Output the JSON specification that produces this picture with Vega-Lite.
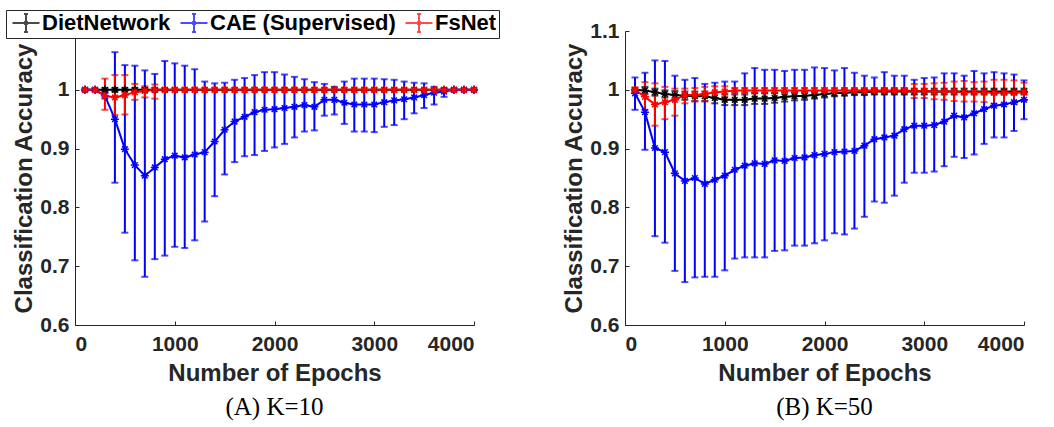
{
  "$schema": "https://vega.github.io/schema/vega-lite/v6.json",
  "background": "white",
  "padding": {"left": 5, "top": 9, "right": 5, "bottom": 5},
  "config": {
    "view": {"stroke": null},
    "axis": {"labelFont": "Liberation Sans", "labelFontSize": 21, "labelFontWeight": "bold", "labelColor": "#262626",
      "titleFont": "Liberation Sans", "titleFontSize": 24, "titleFontWeight": "bold", "titleColor": "#262626",
      "domainColor": "#262626", "tickColor": "#262626", "tickSize": -4, "grid": false},
    "title": {"font": "Liberation Serif", "fontSize": 25, "fontWeight": "normal", "color": "black", "orient": "bottom", "offset": 10}
  },
  "datasets": {
    "d": [
      {"p":"A","s":"DietNetwork","x":100,"m":1,"lo":1,"hi":1},
      {"p":"A","s":"DietNetwork","x":200,"m":1,"lo":1,"hi":1},
      {"p":"A","s":"DietNetwork","x":300,"m":1,"lo":0.997,"hi":1.003},
      {"p":"A","s":"DietNetwork","x":400,"m":1,"lo":0.997,"hi":1.003},
      {"p":"A","s":"DietNetwork","x":500,"m":1,"lo":0.997,"hi":1.003},
      {"p":"A","s":"DietNetwork","x":600,"m":1,"lo":0.997,"hi":1.003},
      {"p":"A","s":"DietNetwork","x":700,"m":1,"lo":0.997,"hi":1.003},
      {"p":"A","s":"DietNetwork","x":800,"m":1,"lo":0.997,"hi":1.003},
      {"p":"A","s":"DietNetwork","x":900,"m":1,"lo":0.998,"hi":1.002},
      {"p":"A","s":"DietNetwork","x":1000,"m":1,"lo":1,"hi":1},
      {"p":"A","s":"DietNetwork","x":1100,"m":1,"lo":1,"hi":1},
      {"p":"A","s":"DietNetwork","x":1200,"m":1,"lo":1,"hi":1},
      {"p":"A","s":"DietNetwork","x":1300,"m":1,"lo":1,"hi":1},
      {"p":"A","s":"DietNetwork","x":1400,"m":1,"lo":1,"hi":1},
      {"p":"A","s":"DietNetwork","x":1500,"m":1,"lo":1,"hi":1},
      {"p":"A","s":"DietNetwork","x":1600,"m":1,"lo":1,"hi":1},
      {"p":"A","s":"DietNetwork","x":1700,"m":1,"lo":1,"hi":1},
      {"p":"A","s":"DietNetwork","x":1800,"m":1,"lo":1,"hi":1},
      {"p":"A","s":"DietNetwork","x":1900,"m":1,"lo":1,"hi":1},
      {"p":"A","s":"DietNetwork","x":2000,"m":1,"lo":1,"hi":1},
      {"p":"A","s":"DietNetwork","x":2100,"m":1,"lo":1,"hi":1},
      {"p":"A","s":"DietNetwork","x":2200,"m":1,"lo":1,"hi":1},
      {"p":"A","s":"DietNetwork","x":2300,"m":1,"lo":1,"hi":1},
      {"p":"A","s":"DietNetwork","x":2400,"m":1,"lo":1,"hi":1},
      {"p":"A","s":"DietNetwork","x":2500,"m":1,"lo":1,"hi":1},
      {"p":"A","s":"DietNetwork","x":2600,"m":1,"lo":1,"hi":1},
      {"p":"A","s":"DietNetwork","x":2700,"m":1,"lo":1,"hi":1},
      {"p":"A","s":"DietNetwork","x":2800,"m":1,"lo":1,"hi":1},
      {"p":"A","s":"DietNetwork","x":2900,"m":1,"lo":1,"hi":1},
      {"p":"A","s":"DietNetwork","x":3000,"m":1,"lo":1,"hi":1},
      {"p":"A","s":"DietNetwork","x":3100,"m":1,"lo":1,"hi":1},
      {"p":"A","s":"DietNetwork","x":3200,"m":1,"lo":1,"hi":1},
      {"p":"A","s":"DietNetwork","x":3300,"m":1,"lo":1,"hi":1},
      {"p":"A","s":"DietNetwork","x":3400,"m":1,"lo":1,"hi":1},
      {"p":"A","s":"DietNetwork","x":3500,"m":1,"lo":1,"hi":1},
      {"p":"A","s":"DietNetwork","x":3600,"m":1,"lo":1,"hi":1},
      {"p":"A","s":"DietNetwork","x":3700,"m":1,"lo":1,"hi":1},
      {"p":"A","s":"DietNetwork","x":3800,"m":1,"lo":1,"hi":1},
      {"p":"A","s":"DietNetwork","x":3900,"m":1,"lo":1,"hi":1},
      {"p":"A","s":"DietNetwork","x":4000,"m":1,"lo":1,"hi":1},
      {"p":"A","s":"CAE (Supervised)","x":100,"m":1,"lo":0.998,"hi":1.002},
      {"p":"A","s":"CAE (Supervised)","x":200,"m":1,"lo":0.998,"hi":1.002},
      {"p":"A","s":"CAE (Supervised)","x":300,"m":0.99,"lo":0.985,"hi":0.995},
      {"p":"A","s":"CAE (Supervised)","x":400,"m":0.95,"lo":0.842,"hi":1.064},
      {"p":"A","s":"CAE (Supervised)","x":500,"m":0.899,"lo":0.757,"hi":1.042},
      {"p":"A","s":"CAE (Supervised)","x":600,"m":0.872,"lo":0.71,"hi":1.041},
      {"p":"A","s":"CAE (Supervised)","x":700,"m":0.854,"lo":0.682,"hi":1.033},
      {"p":"A","s":"CAE (Supervised)","x":800,"m":0.868,"lo":0.712,"hi":1.027},
      {"p":"A","s":"CAE (Supervised)","x":900,"m":0.882,"lo":0.718,"hi":1.049},
      {"p":"A","s":"CAE (Supervised)","x":1000,"m":0.888,"lo":0.733,"hi":1.045},
      {"p":"A","s":"CAE (Supervised)","x":1100,"m":0.885,"lo":0.731,"hi":1.041},
      {"p":"A","s":"CAE (Supervised)","x":1200,"m":0.89,"lo":0.744,"hi":1.035},
      {"p":"A","s":"CAE (Supervised)","x":1300,"m":0.894,"lo":0.776,"hi":1.014},
      {"p":"A","s":"CAE (Supervised)","x":1400,"m":0.912,"lo":0.819,"hi":1.011},
      {"p":"A","s":"CAE (Supervised)","x":1500,"m":0.932,"lo":0.856,"hi":1.012},
      {"p":"A","s":"CAE (Supervised)","x":1600,"m":0.946,"lo":0.877,"hi":1.017},
      {"p":"A","s":"CAE (Supervised)","x":1700,"m":0.954,"lo":0.887,"hi":1.02},
      {"p":"A","s":"CAE (Supervised)","x":1800,"m":0.962,"lo":0.889,"hi":1.025},
      {"p":"A","s":"CAE (Supervised)","x":1900,"m":0.966,"lo":0.896,"hi":1.03},
      {"p":"A","s":"CAE (Supervised)","x":2000,"m":0.967,"lo":0.902,"hi":1.03},
      {"p":"A","s":"CAE (Supervised)","x":2100,"m":0.969,"lo":0.908,"hi":1.026},
      {"p":"A","s":"CAE (Supervised)","x":2200,"m":0.971,"lo":0.919,"hi":1.022},
      {"p":"A","s":"CAE (Supervised)","x":2300,"m":0.974,"lo":0.929,"hi":1.018},
      {"p":"A","s":"CAE (Supervised)","x":2400,"m":0.971,"lo":0.931,"hi":1.013},
      {"p":"A","s":"CAE (Supervised)","x":2500,"m":0.983,"lo":0.956,"hi":1.01},
      {"p":"A","s":"CAE (Supervised)","x":2600,"m":0.983,"lo":0.958,"hi":1.005},
      {"p":"A","s":"CAE (Supervised)","x":2700,"m":0.978,"lo":0.942,"hi":1.014},
      {"p":"A","s":"CAE (Supervised)","x":2800,"m":0.975,"lo":0.929,"hi":1.019},
      {"p":"A","s":"CAE (Supervised)","x":2900,"m":0.975,"lo":0.929,"hi":1.019},
      {"p":"A","s":"CAE (Supervised)","x":3000,"m":0.975,"lo":0.928,"hi":1.019},
      {"p":"A","s":"CAE (Supervised)","x":3100,"m":0.979,"lo":0.937,"hi":1.018},
      {"p":"A","s":"CAE (Supervised)","x":3200,"m":0.982,"lo":0.94,"hi":1.017},
      {"p":"A","s":"CAE (Supervised)","x":3300,"m":0.984,"lo":0.95,"hi":1.014},
      {"p":"A","s":"CAE (Supervised)","x":3400,"m":0.987,"lo":0.96,"hi":1.012},
      {"p":"A","s":"CAE (Supervised)","x":3500,"m":0.991,"lo":0.969,"hi":1.011},
      {"p":"A","s":"CAE (Supervised)","x":3600,"m":0.995,"lo":0.975,"hi":1.005},
      {"p":"A","s":"CAE (Supervised)","x":3700,"m":0.997,"lo":0.988,"hi":1.003},
      {"p":"A","s":"CAE (Supervised)","x":3800,"m":1,"lo":0.998,"hi":1.002},
      {"p":"A","s":"CAE (Supervised)","x":3900,"m":1,"lo":1,"hi":1},
      {"p":"A","s":"CAE (Supervised)","x":4000,"m":1,"lo":1,"hi":1},
      {"p":"A","s":"FsNet","x":100,"m":1,"lo":1,"hi":1},
      {"p":"A","s":"FsNet","x":200,"m":1,"lo":1,"hi":1},
      {"p":"A","s":"FsNet","x":300,"m":0.99,"lo":0.966,"hi":1.019},
      {"p":"A","s":"FsNet","x":400,"m":0.987,"lo":0.957,"hi":1.025},
      {"p":"A","s":"FsNet","x":500,"m":0.991,"lo":0.958,"hi":1.025},
      {"p":"A","s":"FsNet","x":600,"m":0.996,"lo":0.983,"hi":1.01},
      {"p":"A","s":"FsNet","x":700,"m":0.998,"lo":0.987,"hi":1.006},
      {"p":"A","s":"FsNet","x":800,"m":1,"lo":0.985,"hi":1.009},
      {"p":"A","s":"FsNet","x":900,"m":1,"lo":1,"hi":1},
      {"p":"A","s":"FsNet","x":1000,"m":1,"lo":1,"hi":1},
      {"p":"A","s":"FsNet","x":1100,"m":1,"lo":1,"hi":1},
      {"p":"A","s":"FsNet","x":1200,"m":1,"lo":1,"hi":1},
      {"p":"A","s":"FsNet","x":1300,"m":1,"lo":1,"hi":1},
      {"p":"A","s":"FsNet","x":1400,"m":1,"lo":1,"hi":1},
      {"p":"A","s":"FsNet","x":1500,"m":1,"lo":1,"hi":1},
      {"p":"A","s":"FsNet","x":1600,"m":1,"lo":1,"hi":1},
      {"p":"A","s":"FsNet","x":1700,"m":1,"lo":1,"hi":1},
      {"p":"A","s":"FsNet","x":1800,"m":1,"lo":1,"hi":1},
      {"p":"A","s":"FsNet","x":1900,"m":1,"lo":1,"hi":1},
      {"p":"A","s":"FsNet","x":2000,"m":1,"lo":1,"hi":1},
      {"p":"A","s":"FsNet","x":2100,"m":1,"lo":1,"hi":1},
      {"p":"A","s":"FsNet","x":2200,"m":1,"lo":1,"hi":1},
      {"p":"A","s":"FsNet","x":2300,"m":1,"lo":1,"hi":1},
      {"p":"A","s":"FsNet","x":2400,"m":1,"lo":1,"hi":1},
      {"p":"A","s":"FsNet","x":2500,"m":1,"lo":1,"hi":1},
      {"p":"A","s":"FsNet","x":2600,"m":1,"lo":1,"hi":1},
      {"p":"A","s":"FsNet","x":2700,"m":1,"lo":1,"hi":1},
      {"p":"A","s":"FsNet","x":2800,"m":1,"lo":1,"hi":1},
      {"p":"A","s":"FsNet","x":2900,"m":1,"lo":1,"hi":1},
      {"p":"A","s":"FsNet","x":3000,"m":1,"lo":1,"hi":1},
      {"p":"A","s":"FsNet","x":3100,"m":1,"lo":1,"hi":1},
      {"p":"A","s":"FsNet","x":3200,"m":1,"lo":1,"hi":1},
      {"p":"A","s":"FsNet","x":3300,"m":1,"lo":1,"hi":1},
      {"p":"A","s":"FsNet","x":3400,"m":1,"lo":1,"hi":1},
      {"p":"A","s":"FsNet","x":3500,"m":1,"lo":1,"hi":1},
      {"p":"A","s":"FsNet","x":3600,"m":1,"lo":1,"hi":1},
      {"p":"A","s":"FsNet","x":3700,"m":1,"lo":1,"hi":1},
      {"p":"A","s":"FsNet","x":3800,"m":1,"lo":1,"hi":1},
      {"p":"A","s":"FsNet","x":3900,"m":1,"lo":1,"hi":1},
      {"p":"A","s":"FsNet","x":4000,"m":1,"lo":1,"hi":1},
      {"p":"B","s":"DietNetwork","x":100,"m":1,"lo":0.998,"hi":1.002},
      {"p":"B","s":"DietNetwork","x":200,"m":0.999,"lo":0.993,"hi":1.005},
      {"p":"B","s":"DietNetwork","x":300,"m":0.996,"lo":0.99,"hi":1.002},
      {"p":"B","s":"DietNetwork","x":400,"m":0.993,"lo":0.987,"hi":0.999},
      {"p":"B","s":"DietNetwork","x":500,"m":0.991,"lo":0.984,"hi":0.998},
      {"p":"B","s":"DietNetwork","x":600,"m":0.99,"lo":0.983,"hi":0.997},
      {"p":"B","s":"DietNetwork","x":700,"m":0.989,"lo":0.981,"hi":0.997},
      {"p":"B","s":"DietNetwork","x":800,"m":0.989,"lo":0.981,"hi":0.997},
      {"p":"B","s":"DietNetwork","x":900,"m":0.986,"lo":0.977,"hi":0.995},
      {"p":"B","s":"DietNetwork","x":1000,"m":0.983,"lo":0.974,"hi":0.992},
      {"p":"B","s":"DietNetwork","x":1100,"m":0.983,"lo":0.974,"hi":0.992},
      {"p":"B","s":"DietNetwork","x":1200,"m":0.983,"lo":0.974,"hi":0.992},
      {"p":"B","s":"DietNetwork","x":1300,"m":0.985,"lo":0.976,"hi":0.994},
      {"p":"B","s":"DietNetwork","x":1400,"m":0.985,"lo":0.976,"hi":0.994},
      {"p":"B","s":"DietNetwork","x":1500,"m":0.986,"lo":0.978,"hi":0.994},
      {"p":"B","s":"DietNetwork","x":1600,"m":0.988,"lo":0.98,"hi":0.996},
      {"p":"B","s":"DietNetwork","x":1700,"m":0.989,"lo":0.982,"hi":0.996},
      {"p":"B","s":"DietNetwork","x":1800,"m":0.99,"lo":0.983,"hi":0.997},
      {"p":"B","s":"DietNetwork","x":1900,"m":0.991,"lo":0.985,"hi":0.997},
      {"p":"B","s":"DietNetwork","x":2000,"m":0.993,"lo":0.987,"hi":0.999},
      {"p":"B","s":"DietNetwork","x":2100,"m":0.994,"lo":0.989,"hi":0.999},
      {"p":"B","s":"DietNetwork","x":2200,"m":0.995,"lo":0.99,"hi":1},
      {"p":"B","s":"DietNetwork","x":2300,"m":0.996,"lo":0.991,"hi":1.001},
      {"p":"B","s":"DietNetwork","x":2400,"m":0.996,"lo":0.991,"hi":1.001},
      {"p":"B","s":"DietNetwork","x":2500,"m":0.997,"lo":0.992,"hi":1.002},
      {"p":"B","s":"DietNetwork","x":2600,"m":0.997,"lo":0.992,"hi":1.002},
      {"p":"B","s":"DietNetwork","x":2700,"m":0.997,"lo":0.992,"hi":1.002},
      {"p":"B","s":"DietNetwork","x":2800,"m":0.997,"lo":0.992,"hi":1.002},
      {"p":"B","s":"DietNetwork","x":2900,"m":0.997,"lo":0.992,"hi":1.002},
      {"p":"B","s":"DietNetwork","x":3000,"m":0.997,"lo":0.992,"hi":1.002},
      {"p":"B","s":"DietNetwork","x":3100,"m":0.997,"lo":0.992,"hi":1.002},
      {"p":"B","s":"DietNetwork","x":3200,"m":0.997,"lo":0.992,"hi":1.002},
      {"p":"B","s":"DietNetwork","x":3300,"m":0.997,"lo":0.992,"hi":1.002},
      {"p":"B","s":"DietNetwork","x":3400,"m":0.997,"lo":0.992,"hi":1.002},
      {"p":"B","s":"DietNetwork","x":3500,"m":0.997,"lo":0.992,"hi":1.002},
      {"p":"B","s":"DietNetwork","x":3600,"m":0.997,"lo":0.992,"hi":1.002},
      {"p":"B","s":"DietNetwork","x":3700,"m":0.997,"lo":0.992,"hi":1.002},
      {"p":"B","s":"DietNetwork","x":3800,"m":0.997,"lo":0.992,"hi":1.002},
      {"p":"B","s":"DietNetwork","x":3900,"m":0.997,"lo":0.992,"hi":1.002},
      {"p":"B","s":"DietNetwork","x":4000,"m":0.997,"lo":0.992,"hi":1.002},
      {"p":"B","s":"CAE (Supervised)","x":100,"m":0.994,"lo":0.966,"hi":1.021},
      {"p":"B","s":"CAE (Supervised)","x":200,"m":0.962,"lo":0.898,"hi":1.029},
      {"p":"B","s":"CAE (Supervised)","x":300,"m":0.901,"lo":0.751,"hi":1.05},
      {"p":"B","s":"CAE (Supervised)","x":400,"m":0.894,"lo":0.74,"hi":1.049},
      {"p":"B","s":"CAE (Supervised)","x":500,"m":0.858,"lo":0.692,"hi":1.024},
      {"p":"B","s":"CAE (Supervised)","x":600,"m":0.845,"lo":0.673,"hi":1.017},
      {"p":"B","s":"CAE (Supervised)","x":700,"m":0.85,"lo":0.681,"hi":1.02},
      {"p":"B","s":"CAE (Supervised)","x":800,"m":0.84,"lo":0.682,"hi":1.01},
      {"p":"B","s":"CAE (Supervised)","x":900,"m":0.847,"lo":0.682,"hi":1.012},
      {"p":"B","s":"CAE (Supervised)","x":1000,"m":0.854,"lo":0.693,"hi":1.014},
      {"p":"B","s":"CAE (Supervised)","x":1100,"m":0.864,"lo":0.713,"hi":1.014},
      {"p":"B","s":"CAE (Supervised)","x":1200,"m":0.871,"lo":0.715,"hi":1.028},
      {"p":"B","s":"CAE (Supervised)","x":1300,"m":0.875,"lo":0.715,"hi":1.037},
      {"p":"B","s":"CAE (Supervised)","x":1400,"m":0.874,"lo":0.715,"hi":1.034},
      {"p":"B","s":"CAE (Supervised)","x":1500,"m":0.88,"lo":0.726,"hi":1.034},
      {"p":"B","s":"CAE (Supervised)","x":1600,"m":0.879,"lo":0.727,"hi":1.032},
      {"p":"B","s":"CAE (Supervised)","x":1700,"m":0.884,"lo":0.735,"hi":1.034},
      {"p":"B","s":"CAE (Supervised)","x":1800,"m":0.885,"lo":0.735,"hi":1.034},
      {"p":"B","s":"CAE (Supervised)","x":1900,"m":0.889,"lo":0.739,"hi":1.038},
      {"p":"B","s":"CAE (Supervised)","x":2000,"m":0.891,"lo":0.744,"hi":1.037},
      {"p":"B","s":"CAE (Supervised)","x":2100,"m":0.894,"lo":0.756,"hi":1.033},
      {"p":"B","s":"CAE (Supervised)","x":2200,"m":0.895,"lo":0.754,"hi":1.037},
      {"p":"B","s":"CAE (Supervised)","x":2300,"m":0.896,"lo":0.764,"hi":1.029},
      {"p":"B","s":"CAE (Supervised)","x":2400,"m":0.905,"lo":0.784,"hi":1.024},
      {"p":"B","s":"CAE (Supervised)","x":2500,"m":0.916,"lo":0.81,"hi":1.021},
      {"p":"B","s":"CAE (Supervised)","x":2600,"m":0.919,"lo":0.808,"hi":1.03},
      {"p":"B","s":"CAE (Supervised)","x":2700,"m":0.922,"lo":0.82,"hi":1.024},
      {"p":"B","s":"CAE (Supervised)","x":2800,"m":0.933,"lo":0.842,"hi":1.024},
      {"p":"B","s":"CAE (Supervised)","x":2900,"m":0.939,"lo":0.859,"hi":1.017},
      {"p":"B","s":"CAE (Supervised)","x":3000,"m":0.939,"lo":0.859,"hi":1.02},
      {"p":"B","s":"CAE (Supervised)","x":3100,"m":0.94,"lo":0.861,"hi":1.021},
      {"p":"B","s":"CAE (Supervised)","x":3200,"m":0.946,"lo":0.87,"hi":1.028},
      {"p":"B","s":"CAE (Supervised)","x":3300,"m":0.956,"lo":0.886,"hi":1.028},
      {"p":"B","s":"CAE (Supervised)","x":3400,"m":0.953,"lo":0.884,"hi":1.024},
      {"p":"B","s":"CAE (Supervised)","x":3500,"m":0.96,"lo":0.89,"hi":1.032},
      {"p":"B","s":"CAE (Supervised)","x":3600,"m":0.967,"lo":0.908,"hi":1.028},
      {"p":"B","s":"CAE (Supervised)","x":3700,"m":0.973,"lo":0.919,"hi":1.03},
      {"p":"B","s":"CAE (Supervised)","x":3800,"m":0.975,"lo":0.919,"hi":1.028},
      {"p":"B","s":"CAE (Supervised)","x":3900,"m":0.979,"lo":0.93,"hi":1.026},
      {"p":"B","s":"CAE (Supervised)","x":4000,"m":0.983,"lo":0.95,"hi":1.016},
      {"p":"B","s":"FsNet","x":100,"m":1,"lo":0.996,"hi":1.004},
      {"p":"B","s":"FsNet","x":200,"m":0.988,"lo":0.966,"hi":1.013},
      {"p":"B","s":"FsNet","x":300,"m":0.975,"lo":0.939,"hi":1.011},
      {"p":"B","s":"FsNet","x":400,"m":0.979,"lo":0.95,"hi":1.005},
      {"p":"B","s":"FsNet","x":500,"m":0.983,"lo":0.956,"hi":1.002},
      {"p":"B","s":"FsNet","x":600,"m":0.991,"lo":0.977,"hi":1.002},
      {"p":"B","s":"FsNet","x":700,"m":0.991,"lo":0.98,"hi":1.003},
      {"p":"B","s":"FsNet","x":800,"m":0.993,"lo":0.98,"hi":1.005},
      {"p":"B","s":"FsNet","x":900,"m":0.996,"lo":0.986,"hi":1.006},
      {"p":"B","s":"FsNet","x":1000,"m":0.997,"lo":0.988,"hi":1.006},
      {"p":"B","s":"FsNet","x":1100,"m":0.999,"lo":0.995,"hi":1.003},
      {"p":"B","s":"FsNet","x":1200,"m":0.999,"lo":0.995,"hi":1.003},
      {"p":"B","s":"FsNet","x":1300,"m":0.999,"lo":0.995,"hi":1.003},
      {"p":"B","s":"FsNet","x":1400,"m":0.999,"lo":0.995,"hi":1.003},
      {"p":"B","s":"FsNet","x":1500,"m":0.999,"lo":0.995,"hi":1.003},
      {"p":"B","s":"FsNet","x":1600,"m":0.999,"lo":0.995,"hi":1.003},
      {"p":"B","s":"FsNet","x":1700,"m":0.999,"lo":0.995,"hi":1.003},
      {"p":"B","s":"FsNet","x":1800,"m":0.999,"lo":0.995,"hi":1.003},
      {"p":"B","s":"FsNet","x":1900,"m":0.999,"lo":0.995,"hi":1.003},
      {"p":"B","s":"FsNet","x":2000,"m":0.999,"lo":0.995,"hi":1.003},
      {"p":"B","s":"FsNet","x":2100,"m":0.999,"lo":0.995,"hi":1.003},
      {"p":"B","s":"FsNet","x":2200,"m":0.999,"lo":0.995,"hi":1.003},
      {"p":"B","s":"FsNet","x":2300,"m":0.999,"lo":0.995,"hi":1.003},
      {"p":"B","s":"FsNet","x":2400,"m":0.999,"lo":0.995,"hi":1.003},
      {"p":"B","s":"FsNet","x":2500,"m":0.999,"lo":0.995,"hi":1.003},
      {"p":"B","s":"FsNet","x":2600,"m":0.999,"lo":0.995,"hi":1.003},
      {"p":"B","s":"FsNet","x":2700,"m":0.999,"lo":0.995,"hi":1.003},
      {"p":"B","s":"FsNet","x":2800,"m":0.999,"lo":0.995,"hi":1.003},
      {"p":"B","s":"FsNet","x":2900,"m":0.998,"lo":0.986,"hi":1.01},
      {"p":"B","s":"FsNet","x":3000,"m":0.998,"lo":0.986,"hi":1.01},
      {"p":"B","s":"FsNet","x":3100,"m":0.997,"lo":0.984,"hi":1.011},
      {"p":"B","s":"FsNet","x":3200,"m":0.997,"lo":0.983,"hi":1.012},
      {"p":"B","s":"FsNet","x":3300,"m":0.997,"lo":0.981,"hi":1.014},
      {"p":"B","s":"FsNet","x":3400,"m":0.996,"lo":0.98,"hi":1.015},
      {"p":"B","s":"FsNet","x":3500,"m":0.996,"lo":0.98,"hi":1.013},
      {"p":"B","s":"FsNet","x":3600,"m":0.996,"lo":0.979,"hi":1.014},
      {"p":"B","s":"FsNet","x":3700,"m":0.995,"lo":0.976,"hi":1.017},
      {"p":"B","s":"FsNet","x":3800,"m":0.995,"lo":0.976,"hi":1.017},
      {"p":"B","s":"FsNet","x":3900,"m":0.995,"lo":0.976,"hi":1.016},
      {"p":"B","s":"FsNet","x":4000,"m":0.996,"lo":0.982,"hi":1.012}
    ]
  },
  "data": {"name": "d"},
  "spacing": 151,
  "bounds": "flush",
  "resolve": {"legend": {"color": "independent"}},
  "hconcat": [
    {
      "width": 399, "height": 294,
      "title": {"text": "(A) K=10"},
      "transform": [{"filter": "datum.p === 'A'"}],
      "encoding": {
        "x": {"field": "x", "type": "quantitative", "scale": {"domain": [0, 4000], "nice": false},
          "axis": {"values": [0, 1000, 2000, 3000, 4000], "format": "d", "title": "Number of Epochs", "labelPadding": 12, "titlePadding": 7}},
        "color": {"field": "s", "type": "nominal",
          "scale": {"domain": ["DietNetwork", "CAE (Supervised)", "FsNet"], "range": ["black", "#0000ff", "#ff0000"]},
          "legend": {"orient": "none", "legendX": -69, "legendY": -21, "direction": "horizontal", "columns": 3, "title": null,
            "labelFont": "Liberation Sans", "labelFontSize": 22, "labelFontWeight": "bold", "labelColor": "black", "labelLimit": 500,
            "symbolType": "M-1.5,0H1.5M0,-1V1M-0.22,-1H0.22M-0.22,1H0.22M-0.1,-0.1H0.1V0.1H-0.1Z",
            "symbolSize": 324, "symbolStrokeWidth": 2, "symbolOffset": 7, "labelOffset": 5, "columnPadding": 5,
            "padding": 2, "strokeColor": "#262626", "fillColor": "white"}}
      },
      "layer": [
        {"mark": {"type": "errorbar", "thickness": 2, "ticks": {"size": 7, "thickness": 2}},
          "encoding": {"y": {"field": "lo", "type": "quantitative", "scale": {"domain": [0.6, 1.1], "nice": false, "zero": false},
            "axis": {"values": [0.6, 0.7, 0.8, 0.9, 1], "format": "~g", "title": "Classification Accuracy", "labelPadding": 10, "titlePadding": 3}},
            "y2": {"field": "hi"}}},
        {"mark": {"type": "line", "strokeWidth": 2}, "encoding": {"y": {"field": "m", "type": "quantitative"}}},
        {"mark": {"type": "point", "filled": false, "strokeWidth": 1.5, "size": 64, "opacity": 1,
          "shape": "M-1,0H1M0,-1V1M-0.7,-0.7L0.7,0.7M-0.7,0.7L0.7,-0.7"},
          "encoding": {"y": {"field": "m", "type": "quantitative"}}}
      ]
    },
    {
      "width": 399, "height": 294,
      "title": {"text": "(B) K=50"},
      "transform": [{"filter": "datum.p === 'B'"}],
      "encoding": {
        "x": {"field": "x", "type": "quantitative", "scale": {"domain": [0, 4000], "nice": false},
          "axis": {"values": [0, 1000, 2000, 3000, 4000], "format": "d", "title": "Number of Epochs", "labelPadding": 12, "titlePadding": 7}},
        "color": {"field": "s", "type": "nominal",
          "scale": {"domain": ["DietNetwork", "CAE (Supervised)", "FsNet"], "range": ["black", "#0000ff", "#ff0000"]},
          "legend": null}
      },
      "layer": [
        {"mark": {"type": "errorbar", "thickness": 2, "ticks": {"size": 7, "thickness": 2}},
          "encoding": {"y": {"field": "lo", "type": "quantitative", "scale": {"domain": [0.6, 1.1], "nice": false, "zero": false},
            "axis": {"values": [0.6, 0.7, 0.8, 0.9, 1, 1.1], "format": "~g", "title": "Classification Accuracy", "labelPadding": 10, "titlePadding": 3}},
            "y2": {"field": "hi"}}},
        {"mark": {"type": "line", "strokeWidth": 2}, "encoding": {"y": {"field": "m", "type": "quantitative"}}},
        {"mark": {"type": "point", "filled": false, "strokeWidth": 1.5, "size": 64, "opacity": 1,
          "shape": "M-1,0H1M0,-1V1M-0.7,-0.7L0.7,0.7M-0.7,0.7L0.7,-0.7"},
          "encoding": {"y": {"field": "m", "type": "quantitative"}}}
      ]
    }
  ]
}
